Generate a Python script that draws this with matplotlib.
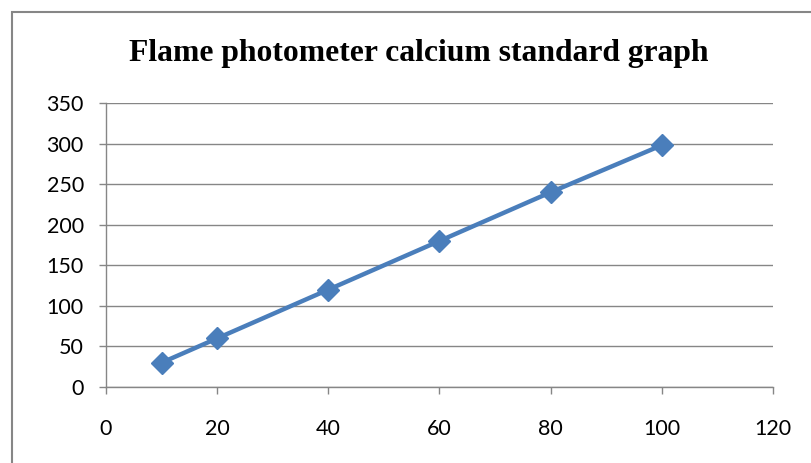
import matplotlib.pyplot as plt
from matplotlib.patches import Rectangle

# calcium standard concentrations and photometer readings
conc = [10, 20, 40, 60, 80, 100]
reading = [30, 60, 120, 180, 240, 298]

x_ticks = [0, 20, 40, 60, 80, 100, 120]
y_ticks = [0, 50, 100, 150, 200, 250, 300, 350]

title = "Flame photometer calcium standard graph"

fig = plt.figure(figsize=(8.11, 4.63), dpi=100)
ax = fig.add_axes([0.1307, 0.1641, 0.8224, 0.6134])

# chart-area border (cut off at the right and bottom)
fig.patches.append(Rectangle((12 / 811, -0.1), 1.2, 1 - 12 / 463 + 0.1,
                             transform=fig.transFigure, fill=False,
                             edgecolor='#868686', linewidth=1.5))

grid_col = '#868686'
ax.plot(conc, reading, color='#4A7EBB', linewidth=3.2, marker='D',
        markersize=11, zorder=3, clip_on=False)

ax.set_xlim(0, 120)
ax.set_ylim(0, 350)
ax.set_xticks(x_ticks)
ax.set_yticks(y_ticks)
ax.yaxis.grid(True, color=grid_col, linewidth=1)
ax.set_axisbelow(True)

for side in ['top', 'right']:
    ax.spines[side].set_visible(False)
for side in ['left', 'bottom']:
    ax.spines[side].set_color(grid_col)
    ax.spines[side].set_linewidth(1)

ax.tick_params(axis='both', colors=grid_col, length=5, width=1,
               labelcolor='black', labelsize=15.5)
ax.tick_params(axis='x', pad=18)
ax.tick_params(axis='y', pad=11)
for lbl in ax.get_xticklabels() + ax.get_yticklabels():
    lbl.set_family('Lato')

fig.text(419 / 811, 1 - 54 / 463, title, ha='center', va='center',
         family='Liberation Serif', fontweight='bold', fontsize=22.8)

fig.savefig('out.png', dpi=100)
